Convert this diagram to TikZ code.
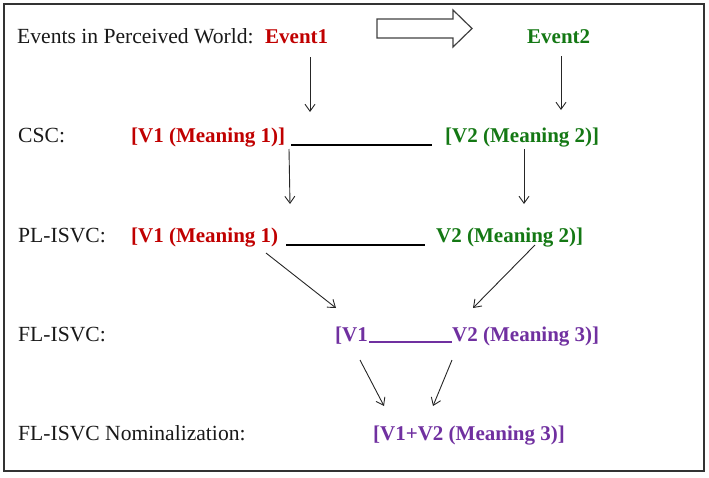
\documentclass[tikz,border=0pt]{standalone}
\usepackage{fontspec}
\setmainfont{Liberation Serif}
\usetikzlibrary{arrows.meta,calc}

\definecolor{evred}{HTML}{C00000}
\definecolor{evgreen}{RGB}{20,120,20}
\definecolor{evpurple}{HTML}{7030A0}

\begin{document}
\begin{tikzpicture}[x=1pt, y=-1pt,
		txt/.style={anchor=base west, inner sep=0pt},
		lbl/.style={txt, black!90, font=\fontsize{21.6}{26}\selectfont},
		evt/.style={txt, font=\fontsize{21}{25}\selectfont\bfseries},
		flow/.style={->, black!85, line width=0.9pt, >={Straight Barb[length=7pt,width=10pt]}},
		gapline/.style={line width=1.4pt}]
		\useasboundingbox (0, 0) rectangle (709, 477);
		\draw[black!80, line width=1.3pt] (4, 4) rectangle (704, 471);

		% rows
		\node[lbl] (world) at (17, 43) {Events in Perceived World:};
		\node[evt, evred] (ev1) at (265, 43) {Event1};
		\node[evt, evgreen] (ev2) at (527, 43) {Event2};

		\node[lbl] (csc) at (18, 142) {CSC:};
		\node[evt, evred] (csca) at (131, 142) {[V1 (Meaning 1)]};
		\node[evt, evgreen] (cscb) at (445, 142) {[V2 (Meaning 2)]};

		\node[lbl] (pl) at (18, 242) {PL-ISVC:};
		\node[evt, evred] (pla) at (131, 242) {[V1 (Meaning 1)};
		\node[evt, evgreen] (plb) at (436, 242) {V2 (Meaning 2)]};

		\node[lbl] (fl) at (18, 341) {FL-ISVC:};
		\node[evt, evpurple] (fla) at (335, 341) {[V1};
		\node[evt, evpurple] (flb) at (452, 341) {V2 (Meaning 3)]};

		\node[lbl] (flnom) at (18, 440) {FL-ISVC Nominalization:};
		\node[evt, evpurple] (nom) at (373, 440) {[V1+V2 (Meaning 3)]};

		% hollow arrow between the events
		\draw[black!75, line width=1.2pt, line join=miter]
			(377, 19) -- (453, 19) -- (453, 10) -- (472, 28.5) -- (453, 47) -- (453, 38) -- (377, 38) -- cycle;

		% blanks
		\draw[gapline, black, shorten <=6pt, shorten >=13pt]
			([yshift=-3pt]csca.base east) -- ([yshift=-3pt]cscb.base west);
		\draw[gapline, black, shorten <=8pt, shorten >=11pt]
			([yshift=-3pt]pla.base east) -- ([yshift=-3pt]plb.base west);
		\draw[gapline, evpurple, shorten <=1pt]
			([yshift=-1pt]fla.base east) -- ([yshift=-1pt]flb.base west);

		% arrows
		\draw[flow] ($(ev1.base west)+(45, 14)$) -- ($(csca.base west)+(179, -30)$);
		\draw[flow] ($(ev2.base west)+(34, 13)$) -- ($(cscb.base west)+(116, -32)$);
		\draw[flow] ($(csca.base west)+(158, 7)$) -- ($(pla.base west)+(159, -38)$);
		\draw[flow] ($(cscb.base west)+(79, 7)$) -- ($(plb.base west)+(88, -38)$);
		\draw[flow] ($(pla.base west)+(135, 11)$) -- ($(fla.base west)+(1, -33)$);
		\draw[flow] ($(plb.base west)+(99, 3)$) -- ($(flb.base west)+(21, -33)$);
		\draw[flow] ($(fla.base west)+(25, 19)$) -- ($(nom.base west)+(11, -34)$);
		\draw[flow] ($(flb.base west)+(0, 19)$) -- ($(nom.base west)+(60, -34)$);
	\end{tikzpicture}
\end{document}
